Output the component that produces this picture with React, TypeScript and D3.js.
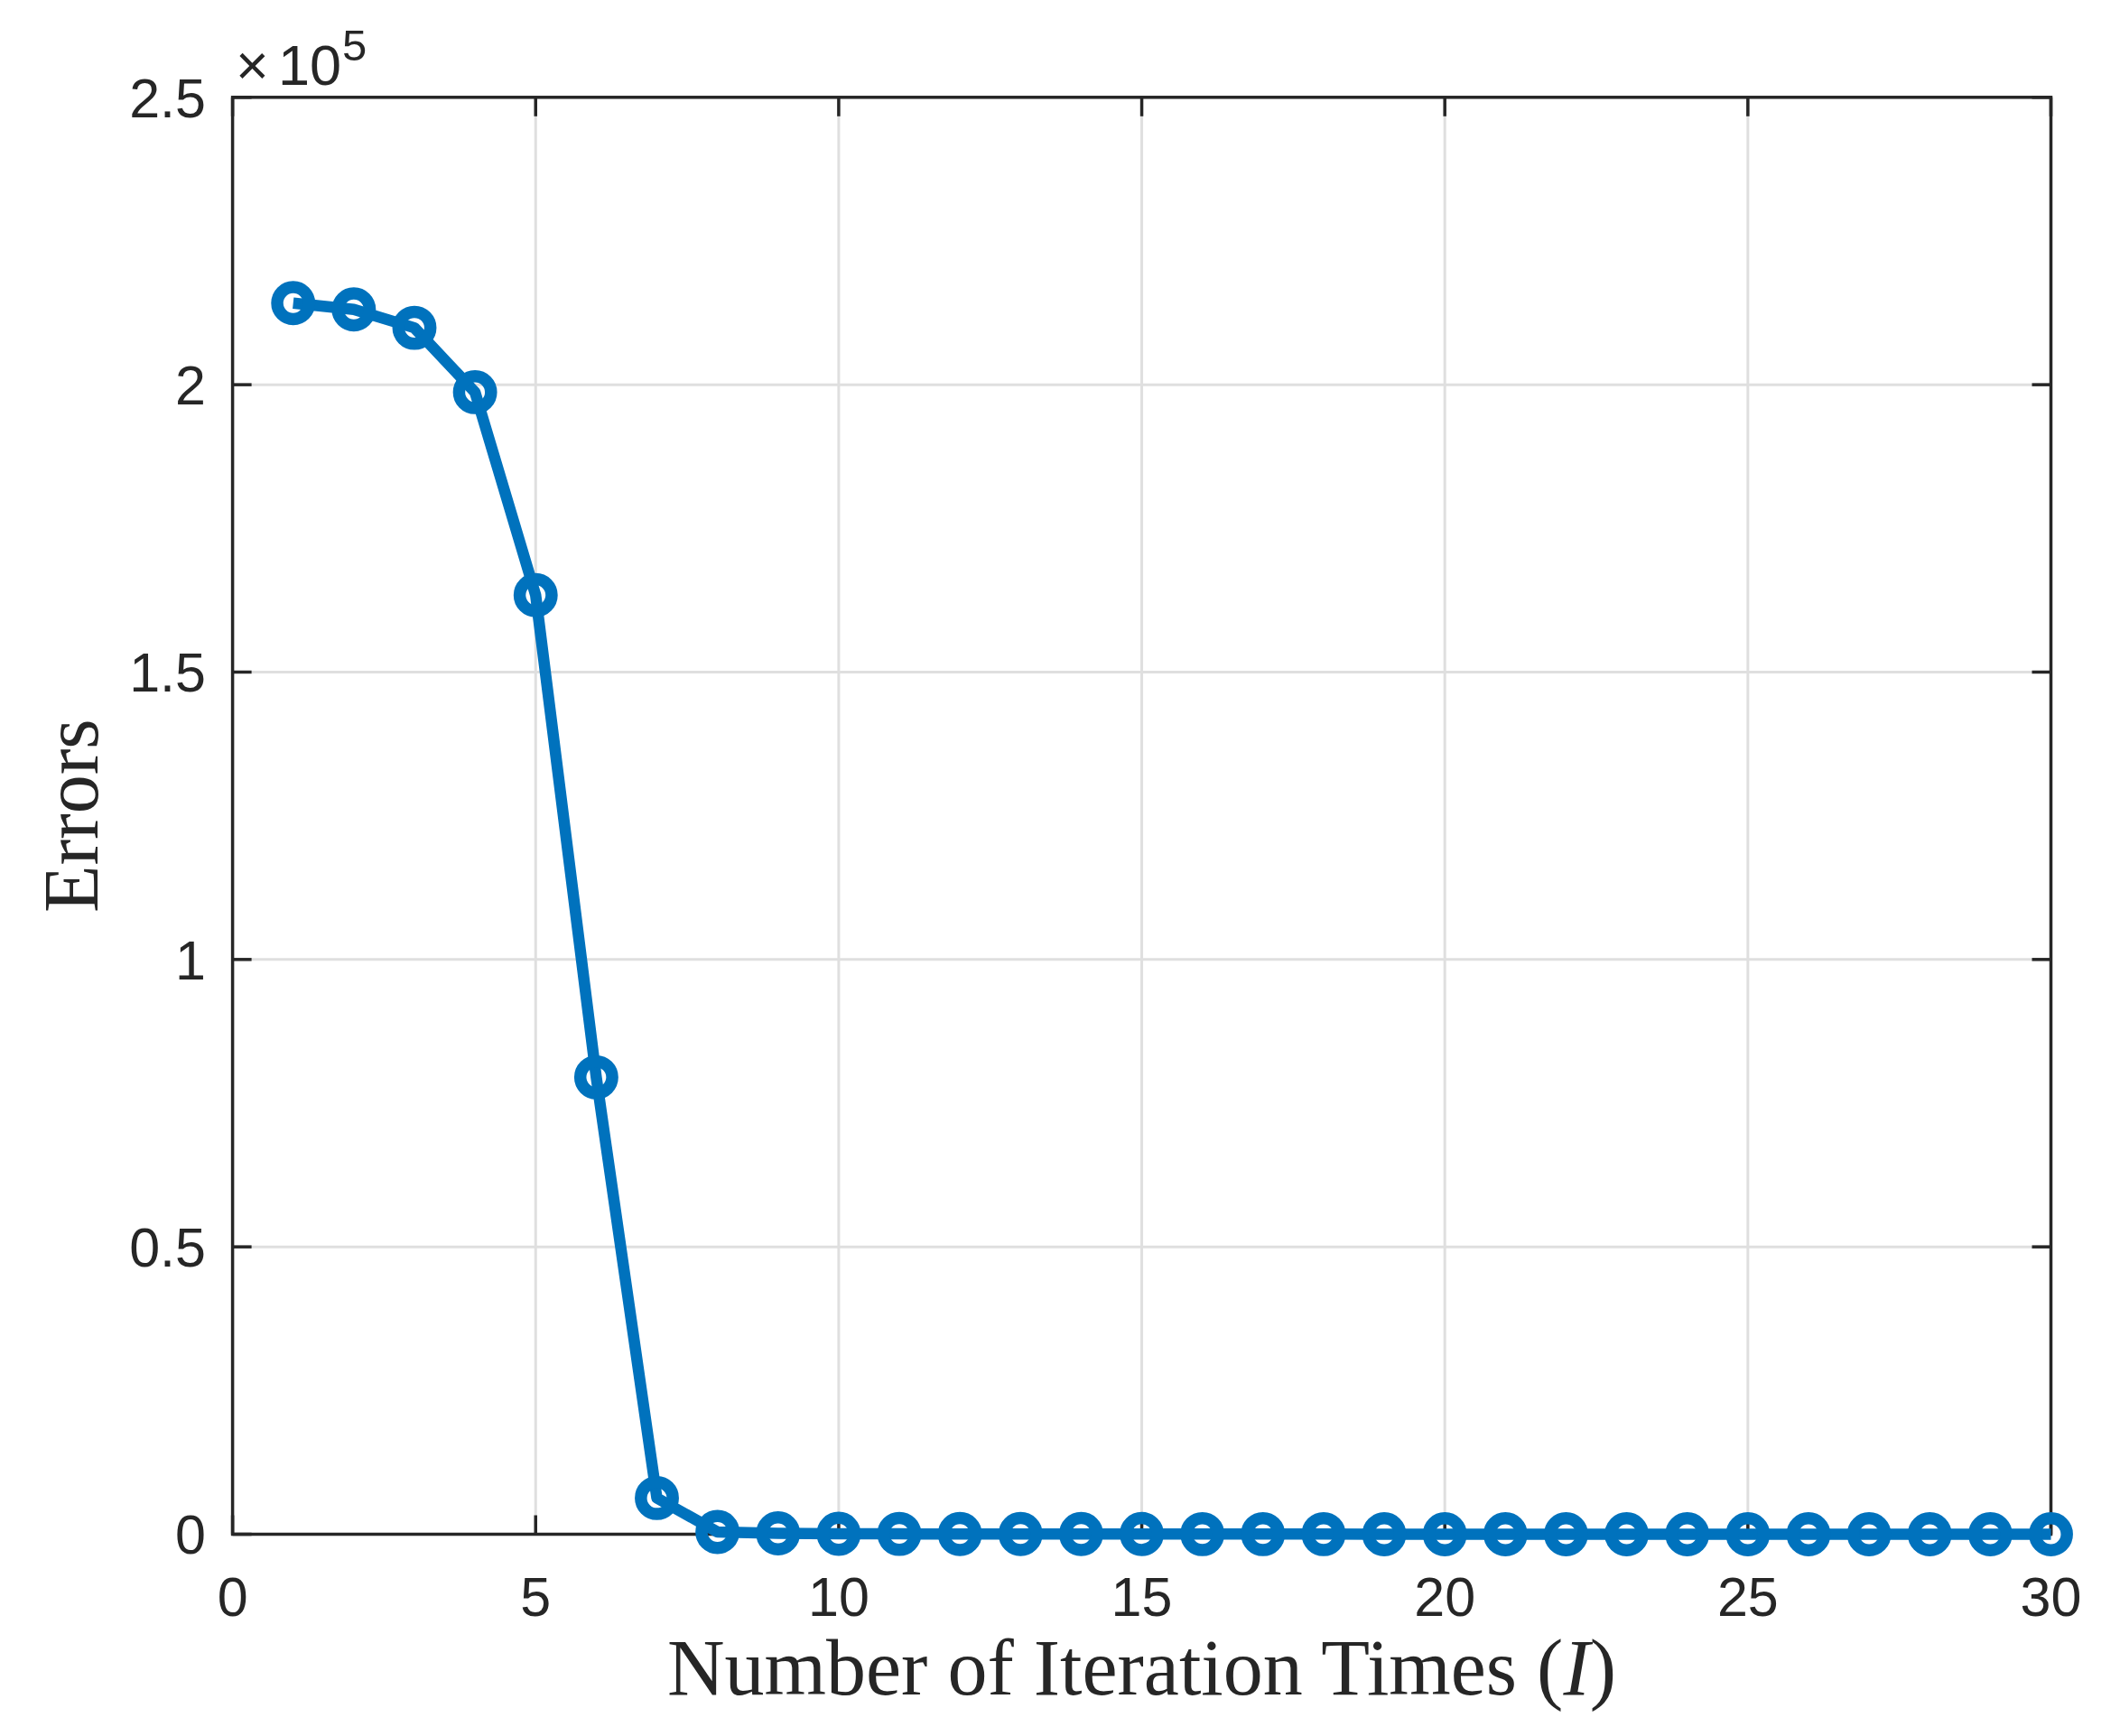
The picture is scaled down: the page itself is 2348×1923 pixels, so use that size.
import React, { useEffect, useRef } from 'react';
import * as d3 from 'd3';

// iteration index and errors
const iterations = [
    1, 2, 3, 4, 5, 6, 7, 8, 9, 10, 11, 12, 13, 14, 15,
    16, 17, 18, 19, 20, 21, 22, 23, 24, 25, 26, 27, 28, 29, 30
];
const errors = [
    214200, 213100, 209900, 198700, 163400, 79500, 6300, 400, 150, 90, 60, 50, 40, 30, 30,
    20, 20, 20, 10, 10, 10, 10, 10, 10, 10, 10, 10, 10, 10, 10
];
const xTicks = [0, 5, 10, 15, 20, 25, 30];
const yTicks = [0, 50000, 100000, 150000, 200000, 250000];
const yTickLabels = ['0', '0.5', '1', '1.5', '2', '2.5'];

export default function App() {
    const svgRef = useRef(null);

    useEffect(() => {
        const svg = d3.select(svgRef.current);
        svg.selectAll('*').remove();

        const W = 2348, H = 1923;
        const margin = { top: 107.8, left: 257.6, right: 2348 - 2271.5, bottom: 1923 - 1699.5 };
        const width = W - margin.left - margin.right;
        const height = H - margin.top - margin.bottom;
        const axisColor = '#262626';
        const tickLen = 21;
        const sansFont = '"Liberation Sans", Arial, Helvetica, sans-serif';
        const serifFont = '"Liberation Serif", "Times New Roman", serif';

        svg.attr('width', W).attr('height', H);
        svg.append('rect').attr('width', W).attr('height', H).attr('fill', '#fff');

        const g = svg.append('g')
            .attr('transform', `translate(${margin.left},${margin.top})`);

        const x = d3.scaleLinear().domain([0, 30]).range([0, width]);
        const y = d3.scaleLinear().domain([0, 250000]).range([height, 0]);

        // grid
        g.selectAll('.vgrid')
            .data(xTicks.slice(1, -1))
            .enter()
            .append('line')
            .attr('x1', d => x(d)).attr('x2', d => x(d))
            .attr('y1', 0).attr('y2', height)
            .attr('stroke', '#dfdfdf').attr('stroke-width', 3);
        g.selectAll('.hgrid')
            .data(yTicks.slice(1, -1))
            .enter()
            .append('line')
            .attr('x1', 0).attr('x2', width)
            .attr('y1', d => y(d)).attr('y2', d => y(d))
            .attr('stroke', '#dfdfdf').attr('stroke-width', 3);

        // ticks on all four sides, pointing inward
        xTicks.forEach(t => {
            g.append('line')
                .attr('x1', x(t)).attr('x2', x(t))
                .attr('y1', height).attr('y2', height - tickLen)
                .attr('stroke', axisColor).attr('stroke-width', 3.5);
            g.append('line')
                .attr('x1', x(t)).attr('x2', x(t))
                .attr('y1', 0).attr('y2', tickLen)
                .attr('stroke', axisColor).attr('stroke-width', 3.5);
        });
        yTicks.forEach(t => {
            g.append('line')
                .attr('x1', 0).attr('x2', tickLen)
                .attr('y1', y(t)).attr('y2', y(t))
                .attr('stroke', axisColor).attr('stroke-width', 3.5);
            g.append('line')
                .attr('x1', width).attr('x2', width - tickLen)
                .attr('y1', y(t)).attr('y2', y(t))
                .attr('stroke', axisColor).attr('stroke-width', 3.5);
        });

        // box
        g.append('rect')
            .attr('x', 0).attr('y', 0)
            .attr('width', width).attr('height', height)
            .attr('fill', 'none')
            .attr('stroke', axisColor)
            .attr('stroke-width', 3.5);

        // tick labels
        g.selectAll('.xlab')
            .data(xTicks)
            .enter()
            .append('text')
            .attr('x', d => x(d))
            .attr('y', height + 90.5)
            .attr('text-anchor', 'middle')
            .style('font-family', sansFont)
            .style('font-size', '61px')
            .attr('fill', axisColor)
            .text(d => String(d));

        g.selectAll('.ylab')
            .data(yTicks)
            .enter()
            .append('text')
            .attr('x', -29.6)
            .attr('y', d => y(d) + 22)
            .attr('text-anchor', 'end')
            .style('font-family', sansFont)
            .style('font-size', '61px')
            .attr('fill', axisColor)
            .text((d, i) => yTickLabels[i]);

        // exponent marker (x10^5)
        const expo = svg.append('g')
            .style('font-family', sansFont)
            .attr('fill', axisColor);
        expo.append('text')
            .attr('x', 261).attr('y', 94)
            .style('font-size', '63px')
            .text('\u00d7');
        expo.append('text')
            .attr('x', 308).attr('y', 94)
            .style('font-size', '63px')
            .text('10');
        expo.append('text')
            .attr('x', 379).attr('y', 67)
            .style('font-size', '49px')
            .text('5');

        // axis labels
        svg.append('text')
            .attr('x', margin.left + width / 2)
            .attr('y', 1877)
            .attr('text-anchor', 'middle')
            .style('font-family', serifFont)
            .style('font-size', '88px')
            .attr('fill', axisColor)
            .call(t => {
                t.append('tspan').text('Number of Iteration Times (');
                t.append('tspan').style('font-style', 'italic').text('I');
                t.append('tspan').text(')');
            });

        svg.append('text')
            .attr('transform', `translate(108.3,${margin.top + height / 2}) rotate(-90)`)
            .attr('text-anchor', 'middle')
            .style('font-family', serifFont)
            .style('font-size', '86px')
            .attr('fill', axisColor)
            .text('Errors');

        // series
        const pts = iterations.map((it, i) => ({ it, err: errors[i] }));
        const line = d3.line()
            .x(d => x(d.it))
            .y(d => y(d.err));

        g.append('path')
            .datum(pts)
            .attr('fill', 'none')
            .attr('stroke', '#0072BD')
            .attr('stroke-width', 12.5)
            .attr('stroke-linejoin', 'round')
            .attr('d', line);

        g.selectAll('.marker')
            .data(pts)
            .enter()
            .append('circle')
            .attr('cx', d => x(d.it))
            .attr('cy', d => y(d.err))
            .attr('r', 17.7)
            .attr('fill', 'none')
            .attr('stroke', '#0072BD')
            .attr('stroke-width', 13.5);
    }, []);

    return (
        <div style={{ position: 'absolute', left: 0, top: 0 }}>
            <svg ref={svgRef} style={{ display: 'block' }} />
        </div>
    );
}
